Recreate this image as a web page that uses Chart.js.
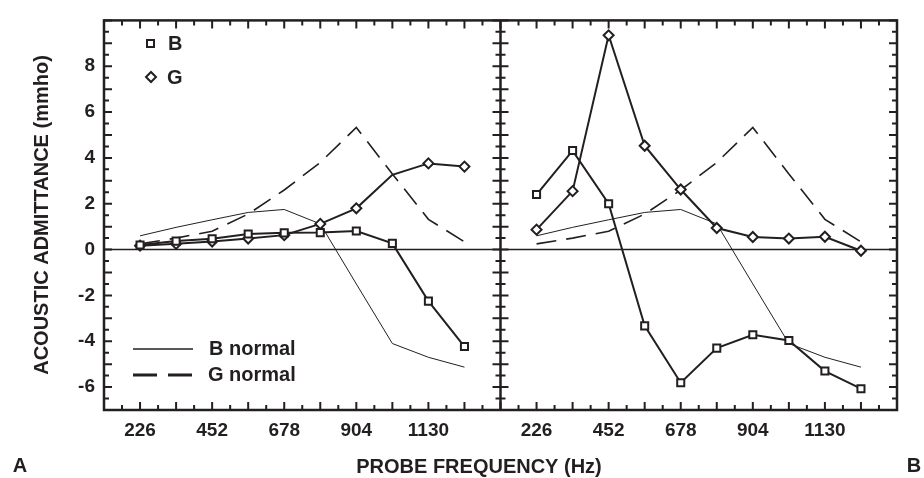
<!DOCTYPE html>
<html>
<head>
<meta charset="utf-8">
<script src="https://cdn.jsdelivr.net/npm/chart.js@4/dist/chart.umd.min.js"></script>
<style>
  html, body { margin: 0; padding: 0; background: #fff; }
</style>
</head>
<body>
<canvas id="grafica" width="924" height="478"></canvas>
<script>
    const frecuencias = [226, 339, 452, 565, 678, 791, 904, 1017, 1130, 1243];

    // panel A
    const bA = [0.2, 0.37, 0.47, 0.68, 0.73, 0.74, 0.81, 0.27, -2.25, -4.23];
    const gA = [0.17, 0.25, 0.35, 0.48, 0.63, 1.12, 1.8, 3.26, 3.76, 3.62];
    // panel B
    const bB = [2.4, 4.32, 2.0, -3.33, -5.81, -4.3, -3.72, -3.97, -5.3, -6.07];
    const gB = [0.87, 2.55, 9.35, 4.53, 2.62, 0.94, 0.55, 0.48, 0.56, -0.05];
    // normal curves, same in both panels
    const bNormal = [0.6, 0.97, 1.3, 1.62, 1.75, 1.12, -1.5, -4.1, -4.7, -5.13];
    const gNormal = [0.25, 0.5, 0.8, 1.55, 2.6, 3.8, 5.33, 3.3, 1.32, 0.34];

    const etiquetasX = [226, 452, 678, 904, 1130];
    const etiquetasY = [-6, -4, -2, 0, 2, 4, 6, 8];

    // both panels share one linear x axis, panel B is shifted right
    const desfaseB = 1243;
    const corte = 1356;
    const negro = "#231f20";
    const fuente = "'Liberation Sans', Arial, sans-serif";

    function puntos(valores, desfase) {
        return frecuencias.map((f, i) => ({ x: f + desfase, y: valores[i] }));
    }

    function serie(valores, desfase, estilo) {
        return {
            data: puntos(valores, desfase),
            borderColor: negro,
            borderWidth: 2,
            pointStyle: estilo,
            pointRadius: 5,
            pointBorderWidth: 2,
            pointBorderColor: negro,
            pointBackgroundColor: "#fff",
            tension: 0
        };
    }

    function normal(valores, desfase, guiones) {
        return {
            data: puntos(valores, desfase),
            borderColor: negro,
            borderWidth: guiones ? 1.6 : 1,
            borderDash: guiones ? [20, 10] : [],
            pointRadius: 0,
            tension: 0
        };
    }

    let gA_serie = serie(gA, 0, "rectRot");
    gA_serie.pointRadius = [5, 5, 5, 5, 5, 5, 5, 0, 5, 5];

    const marco = {
        id: "marco",
        beforeDatasetsDraw(chart) {
            const { ctx, chartArea: a, scales: { y } } = chart;
            const y0 = y.getPixelForValue(0);
            ctx.save();
            ctx.strokeStyle = negro;
            ctx.lineWidth = 1.5;
            ctx.beginPath();
            ctx.moveTo(a.left, y0);
            ctx.lineTo(a.right, y0);
            ctx.stroke();
            ctx.restore();
        },
        afterDatasetsDraw(chart) {
            const { ctx, chartArea: a, scales: { x, y } } = chart;
            const xm = x.getPixelForValue(corte);
            ctx.save();
            ctx.strokeStyle = negro;
            ctx.lineWidth = 2.5;
            ctx.strokeRect(a.left, a.top, a.right - a.left, a.bottom - a.top);
            ctx.beginPath();
            ctx.moveTo(xm, a.top);
            ctx.lineTo(xm, a.bottom);
            ctx.stroke();

            ctx.lineWidth = 2;
            ctx.beginPath();
            x.ticks.forEach(t => {
                const px = x.getPixelForValue(t.value);
                const largo = t.value % 113 === 0 ? 8 : 5;
                ctx.moveTo(px, a.top);
                ctx.lineTo(px, a.top + largo);
                ctx.moveTo(px, a.bottom);
                ctx.lineTo(px, a.bottom - largo);
            });
            y.ticks.forEach(t => {
                const py = y.getPixelForValue(t.value);
                const largo = Number.isInteger(t.value) ? 8 : 5;
                ctx.moveTo(a.left, py);
                ctx.lineTo(a.left + largo, py);
                ctx.moveTo(a.right, py);
                ctx.lineTo(a.right - largo, py);
                ctx.moveTo(xm - largo, py);
                ctx.lineTo(xm + largo, py);
            });
            ctx.stroke();

            // legend, upper left
            ctx.fillStyle = "#fff";
            ctx.lineWidth = 2;
            ctx.fillRect(147, 40, 7, 7);
            ctx.strokeRect(147, 40, 7, 7);
            ctx.beginPath();
            ctx.moveTo(151, 72);
            ctx.lineTo(156, 77);
            ctx.lineTo(151, 82);
            ctx.lineTo(146, 77);
            ctx.closePath();
            ctx.fill();
            ctx.stroke();

            // legend, lower left
            ctx.lineWidth = 1.5;
            ctx.beginPath();
            ctx.moveTo(133, 349);
            ctx.lineTo(193, 349);
            ctx.stroke();
            ctx.lineWidth = 3;
            ctx.setLineDash([24, 11]);
            ctx.beginPath();
            ctx.moveTo(133, 375);
            ctx.lineTo(193, 375);
            ctx.stroke();
            ctx.setLineDash([]);

            ctx.fillStyle = negro;
            ctx.font = "bold 20px " + fuente;
            ctx.textBaseline = "middle";
            ctx.textAlign = "left";
            ctx.fillText("B", 168, 44);
            ctx.fillText("G", 167, 78);
            ctx.fillText("B normal", 209, 349);
            ctx.fillText("G normal", 208, 375);

            // titles and panel letters
            ctx.textAlign = "center";
            ctx.fillText("PROBE FREQUENCY (Hz)", 479, 467);
            ctx.fillText("A", 20, 466);
            ctx.fillText("B", 914, 466);
            ctx.translate(42, 215);
            ctx.rotate(-Math.PI / 2);
            ctx.fillText("ACOUSTIC ADMITTANCE (mmho)", 0, 0);
            ctx.restore();
        }
    };

    let grafica = document.getElementById("grafica").getContext("2d");

    var chart = new Chart(grafica, {
        type: "line",
        data: {
            datasets: [
                serie(bA, 0, "rect"),
                gA_serie,
                serie(bB, desfaseB, "rect"),
                serie(gB, desfaseB, "rectRot"),
                normal(bNormal, 0, false),
                normal(bNormal, desfaseB, false),
                normal(gNormal, 0, true),
                normal(gNormal, desfaseB, true)
            ]
        },
        options: {
            responsive: false,
            devicePixelRatio: 1,
            animation: false,
            layout: { padding: { left: 0, right: 27, top: 14, bottom: 0 } },
            plugins: { legend: { display: false }, tooltip: { enabled: false } },
            scales: {
                x: {
                    type: "linear",
                    min: 113,
                    max: corte + desfaseB,
                    grid: { display: false, drawTicks: false },
                    border: { display: false },
                    afterFit: s => { s.height = 68; },
                    ticks: {
                        stepSize: 56.5,
                        autoSkip: false,
                        maxRotation: 0,
                        minRotation: 0,
                        padding: 9,
                        color: negro,
                        font: { family: fuente, size: 19, weight: "bold" },
                        callback: function (value) {
                            let f = value > corte ? value - desfaseB : value;
                            return etiquetasX.includes(f) ? String(f) : "";
                        }
                    }
                },
                y: {
                    min: -7,
                    max: 10,
                    grid: { display: false, drawTicks: false },
                    border: { display: false },
                    afterFit: s => { s.width = 104; },
                    ticks: {
                        stepSize: 0.5,
                        autoSkip: false,
                        padding: 9,
                        color: negro,
                        font: { family: fuente, size: 19, weight: "bold" },
                        callback: function (value) {
                            return etiquetasY.includes(value) ? String(value) : "";
                        }
                    }
                }
            }
        },
        plugins: [marco]
    });
</script>
</body>
</html>
